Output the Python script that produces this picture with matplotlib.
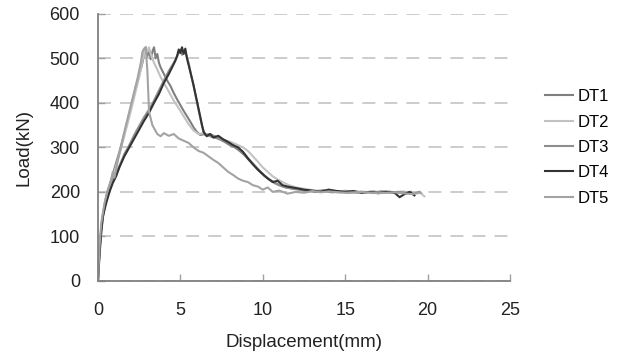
import matplotlib
matplotlib.use("Agg")
import matplotlib.pyplot as plt

plt.rcParams['font.family'] = ['Liberation Sans', 'DejaVu Sans']

# ── Data ─────────────────────────────────────────────────────
dt1_x = [0, 0.1, 0.3, 0.5, 0.7, 0.9, 1.1, 1.3, 1.5, 1.7, 1.9, 2.1, 2.3, 2.5, 2.7, 2.8, 2.9, 3.0, 3.1, 3.2,
         3.3, 3.4, 3.5, 3.6, 3.7, 3.8, 4.0, 4.2, 4.4, 4.6, 4.8, 5.0, 5.2, 5.4, 5.6, 5.8, 6.0, 6.2, 6.5, 6.8,
         7.1, 7.4, 7.7, 8.0, 8.3, 8.6, 8.9, 9.2, 9.5, 9.8, 10.1, 10.4, 10.7, 11.0, 11.4, 11.8, 12.2, 12.7,
         13.2, 13.7, 14.2, 14.7, 15.2, 15.7, 16.2, 16.7, 17.2, 17.7, 18.2, 18.7, 19.0]
dt1_y = [0, 75, 150, 190, 215, 240, 265, 290, 318, 345, 375, 405, 435, 462, 490, 510, 525, 505, 520, 498,
         515, 525, 500, 510, 490, 480, 465, 450, 438, 422, 408, 395, 382, 370, 358, 345, 335, 328, 330, 325,
         322, 318, 312, 305, 300, 292, 282, 270, 258, 246, 236, 228, 220, 215, 210, 207, 205, 202,
         200, 203, 199, 201, 198, 200, 199, 201, 198, 200, 199, 197, 200]

dt2_x = [0, 0.1, 0.3, 0.5, 0.7, 0.9, 1.1, 1.3, 1.5, 1.7, 1.9, 2.1, 2.3, 2.5, 2.6, 2.7, 2.8, 2.9, 3.0, 3.1,
         3.2, 3.4, 3.6, 3.8, 4.0, 4.3, 4.6, 4.9, 5.2, 5.5, 5.8, 6.1, 6.4, 6.7, 7.0, 7.3, 7.6, 7.9, 8.2, 8.5,
         8.8, 9.1, 9.4, 9.7, 10.0, 10.3, 10.6, 10.9, 11.2, 11.6, 12.0, 12.5, 13.0, 13.5, 14.0, 14.5, 15.0,
         15.5, 16.0, 16.5, 17.0, 17.5, 18.0, 18.5, 19.0, 19.5, 19.8]
dt2_y = [0, 70, 145, 185, 210, 235, 258, 285, 312, 340, 368, 398, 428, 458, 475, 495, 510, 522, 515, 525,
         510, 490, 475, 458, 445, 425, 405, 388, 370, 352, 338, 330, 332, 328, 325, 322, 318, 314, 310, 305,
         300, 292, 280, 268, 255, 245, 235, 228, 222, 215, 210, 207, 204, 202, 205, 200, 203,
         199, 201, 198, 200, 202, 199, 201, 198, 200, 190]

dt3_x = [0, 0.1, 0.2, 0.4, 0.6, 0.8, 1.0, 1.3, 1.6, 1.9, 2.2, 2.5, 2.8, 3.1, 3.4, 3.7, 4.0, 4.3, 4.6, 4.8,
         5.0, 5.1, 5.3, 5.5, 5.7, 5.9, 6.1, 6.3, 6.5, 6.8, 7.1, 7.4, 7.7, 8.0, 8.3, 8.6, 8.9, 9.2, 9.5, 9.8,
         10.1, 10.4, 10.7, 11.0, 11.4, 11.8, 12.2, 12.7, 13.2, 13.7, 14.2, 14.7, 15.2, 15.7, 16.2, 16.7,
         17.2, 17.7, 18.2, 18.7, 19.2, 19.5]
dt3_y = [0, 70, 120, 165, 195, 215, 235, 258, 285, 305, 328, 348, 368, 385, 405, 428, 450, 472, 490, 505,
         520, 508, 515, 490, 455, 420, 385, 350, 328, 330, 325, 320, 314, 308, 302, 295, 285, 272, 260, 248,
         236, 228, 222, 215, 210, 208, 206, 203, 201, 204, 200, 199, 201, 198, 200, 199,
         201, 199, 200, 198, 196, 200]

dt4_x = [0, 0.1, 0.2, 0.3, 0.5, 0.7, 0.9, 1.1, 1.3, 1.6, 1.9, 2.2, 2.5, 2.8, 3.1, 3.4, 3.7, 4.0, 4.3, 4.5,
         4.7, 4.8, 4.9, 5.0, 5.1, 5.2, 5.3, 5.4, 5.6, 5.8, 6.0, 6.2, 6.4, 6.6, 6.8, 7.0, 7.3, 7.6, 7.9, 8.2,
         8.5, 8.8, 9.1, 9.4, 9.7, 10.0, 10.3, 10.6, 10.9, 11.2, 11.5, 11.8, 12.1, 12.5, 13.0, 13.5, 14.0,
         14.5, 15.0, 15.5, 16.0, 16.5, 17.0, 17.5, 18.0, 18.3, 18.6, 18.9, 19.2]
dt4_y = [0, 60, 110, 145, 175, 200, 220, 235, 255, 280, 300, 320, 340, 360, 378, 400, 420, 445, 465, 480,
         495, 505, 520, 512, 525, 510, 522, 500, 470, 440, 405, 370, 335, 325, 330, 322, 326, 318, 312, 305,
         300, 290, 275, 262, 250, 240, 230, 222, 225, 215, 212, 210, 208, 205, 203, 200, 205,
         202, 200, 202, 198, 200, 197, 200, 198, 188, 195, 200, 192]

dt5_x = [0, 0.1, 0.2, 0.4, 0.6, 0.8, 0.9, 1.0, 1.2, 1.4, 1.6, 1.8, 2.0, 2.2, 2.4, 2.6, 2.7, 2.8, 2.9, 3.0,
         3.1, 3.3, 3.6, 3.8, 4.0, 4.3, 4.6, 4.9, 5.2, 5.5, 5.8, 6.1, 6.4, 6.7, 7.0, 7.3, 7.6, 7.9, 8.2, 8.5,
         8.8, 9.1, 9.4, 9.7, 10.0, 10.3, 10.6, 11.0, 11.5, 12.0, 12.5, 13.0, 13.5, 14.0, 15.0, 16.0, 17.0,
         18.0, 19.0, 19.6]
dt5_y = [0, 80, 130, 175, 205, 225, 245, 232, 270, 300, 335, 365, 395, 425, 455, 490, 515, 522, 525, 470,
         380, 350, 330, 325, 332, 326, 330, 320, 315, 310, 300, 292, 288, 280, 272, 265, 255, 245, 238, 230,
         225, 222, 215, 212, 205, 210, 200, 203, 196, 200, 198, 202, 199, 201, 198, 200, 197,
         199, 195, 198]

labels = ['DT1', 'DT2', 'DT3', 'DT4', 'DT5']
colors = ['#7f7f7f', '#c2c2c2', '#8e8e8e', '#333333', '#a3a3a3']
series = [(dt1_x, dt1_y), (dt2_x, dt2_y), (dt3_x, dt3_y), (dt4_x, dt4_y), (dt5_x, dt5_y)]

x_ticks = [0, 5, 10, 15, 20, 25]
y_ticks = [0, 100, 200, 300, 400, 500, 600]

# ── Figure ───────────────────────────────────────────────────
fig = plt.figure(figsize=(6.32, 3.56), dpi=100)
ax = fig.add_axes([0.155, 0.211, 0.652, 0.750])

for (x, y), lab, c in zip(series, labels, colors):
    ax.plot(x, y, color=c, lw=1.5, label=lab)

ax.set_xlim(0, 25)
ax.set_ylim(0, 600)
ax.set_xticks(x_ticks)
ax.set_yticks(y_ticks)
ax.yaxis.grid(True, linestyle=(0, (7.2, 5)), color='#c8c8c8', lw=1.3)
ax.set_axisbelow(True)

for s in ['top', 'right']:
    ax.spines[s].set_visible(False)
for s in ['left', 'bottom']:
    ax.spines[s].set_color('#808080')
    ax.spines[s].set_linewidth(1.3)
ax.tick_params(colors='#a0a0a0', labelcolor='#222222', labelsize=13, length=5,
               width=1, direction='in')
ax.tick_params(axis='y', pad=13)
ax.tick_params(axis='x', pad=15)

ax.set_xlabel('Displacement(mm)', fontsize=13.5, color='#222222')
ax.set_ylabel('Load(kN)', fontsize=13.5, color='#222222')
ax.xaxis.set_label_coords(0.5, -0.20)
ax.yaxis.set_label_coords(-0.158, 0.5)

fig.legend(loc='center left', bbox_to_anchor=(0.862, 0.586), frameon=False,
           borderpad=0, borderaxespad=0, fontsize=12, handlelength=1.68,
           handletextpad=0.32, labelspacing=0.62)

fig.savefig('out.png', dpi=100)
